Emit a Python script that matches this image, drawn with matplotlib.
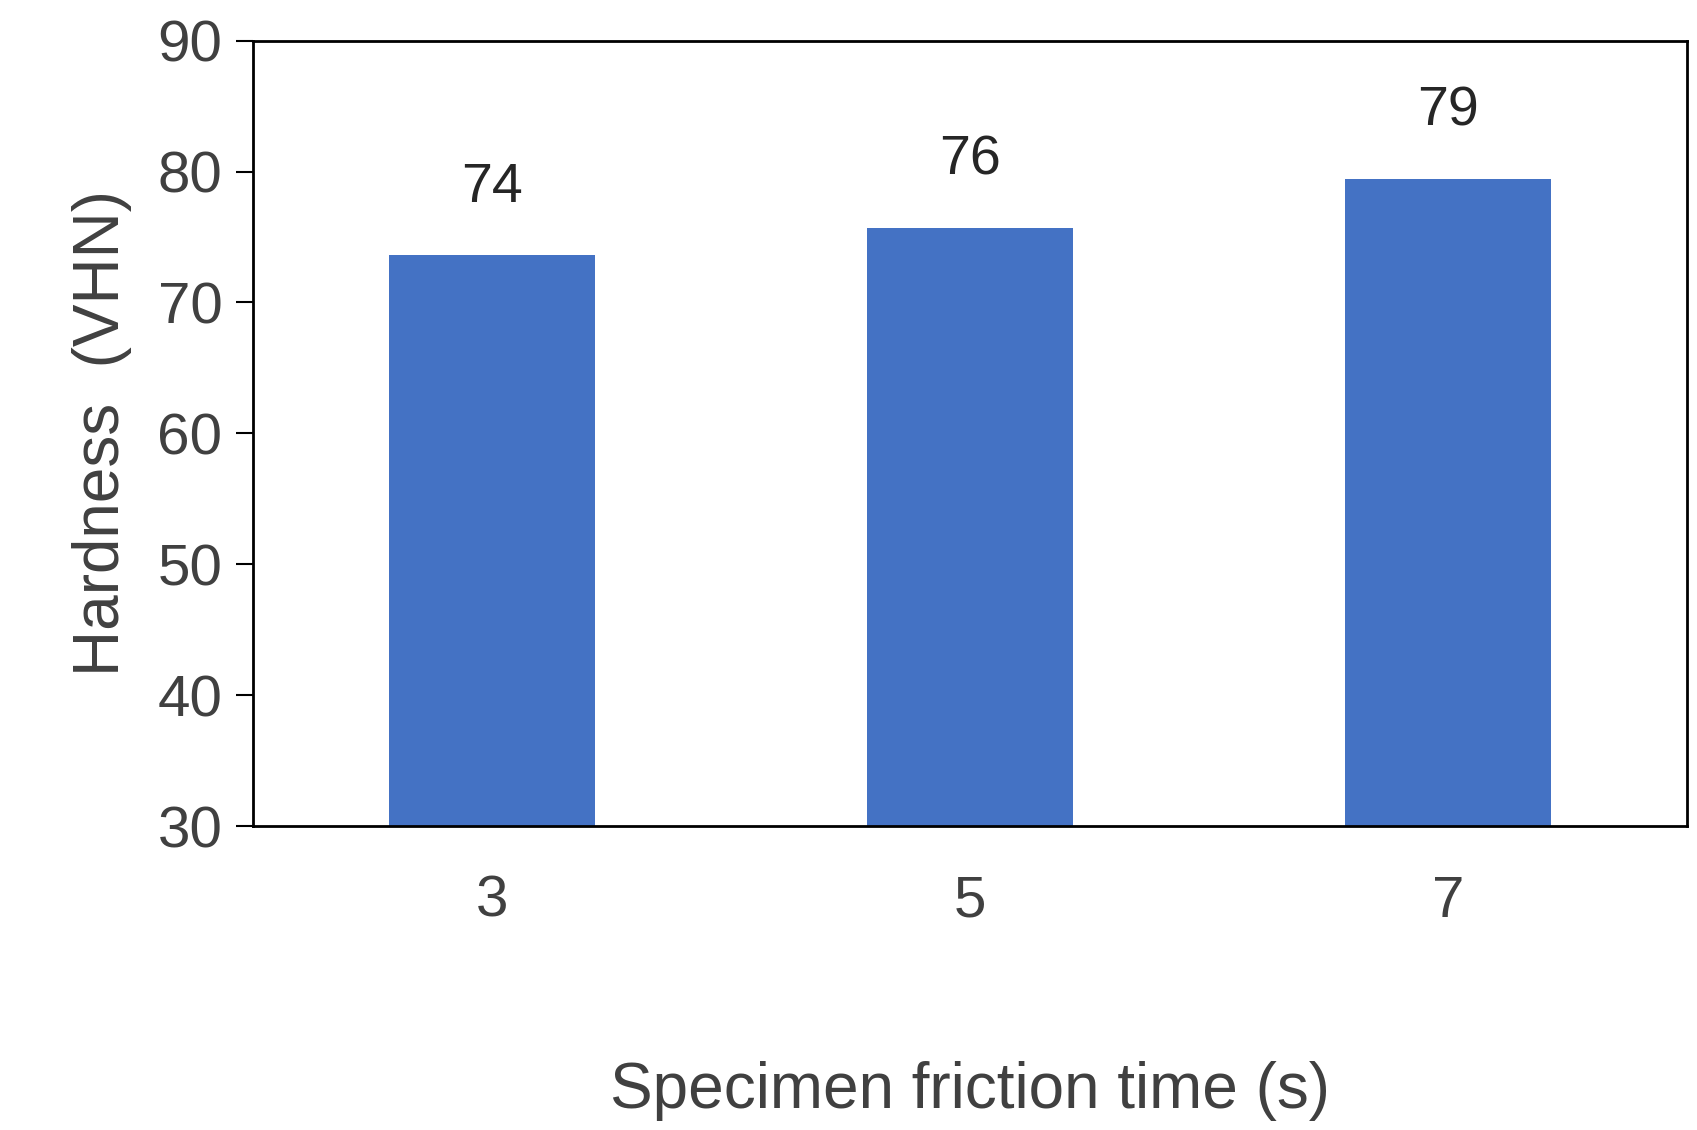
import matplotlib
matplotlib.use("Agg")
import matplotlib.pyplot as plt

categories = ["3", "5", "7"]
values = [73.6, 75.7, 79.4]
labels = ["74", "76", "79"]

plt.rcParams['font.family'] = ['Liberation Sans', 'DejaVu Sans']
fig = plt.figure(figsize=(16.97, 11.30), dpi=100)
ax = fig.add_axes([0.149, 0.269, 0.845, 0.695])
x = range(len(categories))
bars = ax.bar(x, values, width=0.43, color="#4472C4", bottom=0)
ax.set_ylim(30, 90)
ax.set_xlim(-0.5, 2.5)
ax.set_yticks(range(30, 91, 10))
ax.set_xticks(list(x))
ax.set_xticklabels(categories)
for xi, v, l in zip(x, values, labels):
    ax.annotate(l, (xi, v), xytext=(0, 30), textcoords="offset points",
                ha="center", va="bottom", fontsize=40, color="#262626")
ax.tick_params(axis="y", labelsize=42, labelcolor="#404040", length=12, width=1.5, direction="out", pad=10)
ax.tick_params(axis="x", labelsize=42, labelcolor="#404040", length=0, pad=35)
for s in ax.spines.values():
    s.set_linewidth(2)
    s.set_color("black")
ax.set_ylabel("Hardness  (VHN)", fontsize=46, color="#404040", labelpad=18)
ax.set_xlabel("Specimen friction time (s)", fontsize=46, color="#404040", labelpad=95)
fig.savefig("out.png", dpi=100, facecolor="white")
